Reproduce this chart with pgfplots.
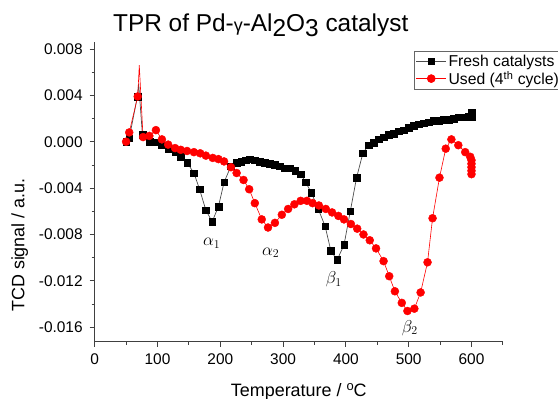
\documentclass[border=0pt]{standalone}
\usepackage{pgfplots}
\pgfplotsset{compat=1.18}
\usepackage{pgfplotstable}
\usepackage{fontspec}
\setmainfont{Liberation Sans}
\pgfplotstableread{
T v
50 0.0000
55 0.0003
68 0.0039
70 0.0050
76 0.0006
88 0.0000
97 -0.00005
107 -0.0003
117 -0.0006
128 -0.0009
137 -0.0013
147 -0.0018
158 -0.0027
167 -0.0041
177 -0.0059
187 -0.0069
197 -0.0056
206 -0.0035
217 -0.0021
226 -0.0018
233 -0.0017
240 -0.0016
247 -0.0015
255 -0.0016
263 -0.0017
271 -0.0018
279 -0.0019
287 -0.0020
295 -0.0021
303 -0.0023
311 -0.0023
319 -0.0025
328 -0.0028
336 -0.0035
345 -0.0044
356 -0.0058
367 -0.0073
376 -0.0094
386 -0.0102
397 -0.0089
407 -0.0060
417 -0.0031
427 -0.0010
436 -0.0003
444 -0.0001
452 0.0002
460 0.0004
468 0.0006
476 0.0007
484 0.0009
492 0.0010
500 0.0012
508 0.0014
516 0.0015
524 0.0016
532 0.0017
540 0.0018
548 0.0018
556 0.0019
564 0.0019
572 0.0020
580 0.0021
588 0.0021
596 0.0022
600 0.0021
600 0.0023
600 0.0025
}\fresh
\pgfplotstableread{
T v
50 0.0000
55 0.0008
68.5 0.0039
71 0.0066
77 0.0004
87 0.0005
97.5 0.0010
107 0.0002
117 -0.00025
128 -0.00055
137 -0.0007
147 -0.0008
158 -0.0009
168 -0.0010
177 -0.0012
188 -0.0014
197 -0.0015
206 -0.0017
217 -0.0022
226 -0.0027
237 -0.0033
246 -0.0041
255 -0.0053
266 -0.0067
276 -0.0074
287 -0.0070
298 -0.0063
308 -0.0058
318 -0.0054
328 -0.0051
338 -0.0051
347 -0.0053
357 -0.0055
368 -0.0058
378 -0.0061
388 -0.0064
397 -0.0067
408 -0.0071
418 -0.0075
428 -0.0080
438 -0.0085
448 -0.0092
460 -0.0103
469 -0.0116
478 -0.0129
489 -0.0139
498 -0.0146
509 -0.0144
519 -0.0130
530 -0.0104
538 -0.0066
549 -0.0031
559 -0.0006
568 0.0002
579 -0.0003
590 -0.0009
598 -0.0013
600 -0.0016
600 -0.0019
600 -0.0022
600 -0.0025
600 -0.0028
}\used
\begin{document}
\begin{tikzpicture}
\begin{axis}[
  at={(0,0)}, anchor=south west,
  scale only axis, width=408.2bp, height=299.6bp,
  xmin=0, xmax=650, ymin=-0.01724, ymax=0.0086,
  axis lines=left, axis line style={-, line width=0.8bp, black!75},
  tick align=outside, major tick length=5bp, minor tick length=3bp,
  tick style={black!75, line width=0.8bp},
  xtick={0,100,...,600}, minor xtick={50,150,...,650},
  ytick={-0.016,-0.012,-0.008,-0.004,0,0.004,0.008},
  minor ytick={-0.014,-0.010,-0.006,-0.002,0.002,0.006},
  scaled y ticks=false,
  yticklabel style={/pgf/number format/fixed, /pgf/number format/fixed zerofill, /pgf/number format/precision=3, xshift=-3.5bp},
  xticklabel style={yshift=-3.5bp},
  /pgf/number format/assume math mode=true,
  ticklabel style={font=\fontsize{15.5}{17}\selectfont},
  clip=false,
  legend style={at={(0.7822,0.970)}, anchor=north west, draw=black!60, line width=0.8bp,
    font=\fontsize{15.8}{16.5}\selectfont, inner sep=1.5bp, row sep=-0.5bp, fill=white},
  legend cell align=left,
  legend image code/.code={\draw[mark repeat=2,mark phase=2] plot coordinates {(0bp,0bp) (15bp,0bp) (30bp,0bp)};},
]
\addlegendimage{draw=black!70, line width=0.7bp, mark=square*, mark size=3.3bp, mark options={black, solid}}
\addlegendentry{Fresh catalysts}
\addlegendimage{draw=red, line width=0.6bp, mark=*, mark size=4bp, mark options={red, solid}}
\addlegendentry{Used (4\textsuperscript{th} cycle)}
\addplot[draw=black!70, line width=0.7bp, no markers, forget plot] table {\fresh};
\addplot[only marks, mark=square*, mark size=3.3bp, black, forget plot, skip coords between index={3}{4}] table {\fresh};
\addplot[draw=red, line width=0.6bp, no markers, forget plot] table {\used};
\addplot[only marks, mark=*, mark size=4bp, red, forget plot, skip coords between index={3}{4}] table {\used};
\end{axis}
\node[font=\fontsize{17}{17}\selectfont] at (117bp,98.5bp) {$\alpha_1$};
\node[font=\fontsize{17}{17}\selectfont] at (176bp,89bp) {$\alpha_2$};
\node[font=\fontsize{17}{17}\selectfont] at (239bp,62bp) {$\beta_1$};
\node[font=\fontsize{17}{17}\selectfont] at (315bp,13.5bp) {$\beta_2$};
\node[font=\fontsize{24.5}{25}\selectfont, anchor=base] at (166bp,309.6bp) {TPR of Pd-{\fontsize{18}{18}\selectfont γ}-Al\raisebox{-5bp}{2}O\raisebox{-5bp}{3} catalyst};
\node[font=\fontsize{18}{18}\selectfont, anchor=base] at (204.1bp,-54.5bp) {Temperature / \raisebox{5.5bp}{\fontsize{13}{13}\selectfont o}C};
\node[font=\fontsize{18}{18}\selectfont, rotate=90] at (-75bp,96.6bp) {TCD signal / a.u.};
\pgfresetboundingbox
\path (-94.7bp,-57.4bp) rectangle (463.3bp,341.6bp);
\end{tikzpicture}
\end{document}
